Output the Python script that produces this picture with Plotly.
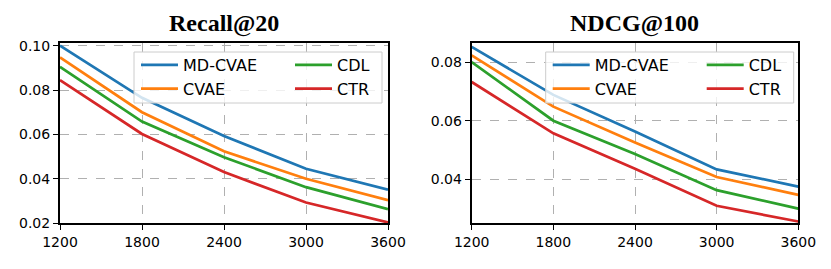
import plotly.graph_objects as go

x_vals = [1200, 1800, 2400, 3000, 3600]
methods = ["MD-CVAE", "CVAE", "CDL", "CTR"]
colors = ["#1f77b4", "#ff7f0e", "#2ca02c", "#d62728"]

recall_mdcvae = [0.1000, 0.0765, 0.0593, 0.0445, 0.0351]
recall_cvae = [0.0947, 0.0700, 0.0524, 0.0400, 0.0303]
recall_cdl = [0.0905, 0.0658, 0.0497, 0.0362, 0.0263]
recall_ctr = [0.0845, 0.0602, 0.0430, 0.0293, 0.0203]

ndcg_mdcvae = [0.0852, 0.0688, 0.0563, 0.0434, 0.0375]
ndcg_cvae = [0.0823, 0.0648, 0.0526, 0.0408, 0.0347]
ndcg_cdl = [0.0800, 0.0600, 0.0486, 0.0363, 0.0300]
ndcg_ctr = [0.0732, 0.0557, 0.0436, 0.0310, 0.0256]

titles = ["Recall@20", "NDCG@100"]
recall_ticks = [0.02, 0.04, 0.06, 0.08, 0.10]
ndcg_ticks = [0.04, 0.06, 0.08]

# page body has an 8px margin: size the figure so it fills the rest of the window
OFF = 8
W, H = 831 - OFF, 269 - OFF
fig = go.Figure()

panels = [
    dict(series=[recall_mdcvae, recall_cvae, recall_cdl, recall_ctr], xaxis="x", yaxis="y",
         legends=["legend", "legend2"]),
    dict(series=[ndcg_mdcvae, ndcg_cvae, ndcg_cdl, ndcg_ctr], xaxis="x2", yaxis="y2",
         legends=["legend3", "legend4"]),
]

for p in panels:
    for i, (name, s) in enumerate(zip(methods, p["series"])):
        fig.add_trace(go.Scatter(
            x=x_vals, y=s, mode="lines", name=name,
            line=dict(color=colors[i], width=2.7),
            xaxis=p["xaxis"], yaxis=p["yaxis"],
            legend=p["legends"][0] if i < 2 else p["legends"][1],
        ))

def px_x(v):
    return (v - OFF) / W

def px_y(v):
    return 1 - (v - OFF) / H

dom1 = [px_x(60), px_x(388)]
dom2 = [px_x(471.7), px_x(798.3)]
ydom = [px_y(223.3), px_y(43.3)]

axis_common = dict(
    showline=True, linecolor="black", linewidth=2, mirror=True,
    ticks="outside", ticklen=5, tickwidth=1.2, tickcolor="black",
    showgrid=True, gridcolor="#b0b0b0", gridwidth=1, griddash="dash",
    zeroline=False, automargin=False,
    tickfont=dict(family="DejaVu Sans", size=14, color="black"),
)

fig.update_layout(
    width=W, height=H,
    margin=dict(l=0, r=0, t=0, b=0, autoexpand=False),
    paper_bgcolor="white", plot_bgcolor="white",
    xaxis=dict(domain=dom1, range=[1200, 3600], tickvals=x_vals, anchor="y", **axis_common),
    yaxis=dict(domain=ydom, range=[0.0199, 0.1011], tickvals=recall_ticks, tickformat=".2f",
               anchor="x", **axis_common),
    xaxis2=dict(domain=dom2, range=[1200, 3600], tickvals=x_vals, anchor="y2", **axis_common),
    yaxis2=dict(domain=ydom, range=[0.025, 0.0864], tickvals=ndcg_ticks, tickformat=".2f",
                anchor="x2", **axis_common),
    showlegend=True,
)

leg_font = dict(family="DejaVu Sans", size=16, color="black")
leg_common = dict(orientation="v", xanchor="left", yanchor="top", bgcolor="rgba(0,0,0,0)",
                  borderwidth=0, font=leg_font, tracegroupgap=0, itemwidth=37)
legend_top = px_y(48)
fig.update_layout(
    legend=dict(x=px_x(136), y=legend_top, **leg_common),
    legend2=dict(x=px_x(290), y=legend_top, **leg_common),
    legend3=dict(x=px_x(136 + 411.7), y=legend_top, **leg_common),
    legend4=dict(x=px_x(290 + 411.7), y=legend_top, **leg_common),
)

# legend frames (slightly rounded)
def rounded_rect(x0, y0, x1, y1, r):
    return (f"M{x0 + r},{y0} L{x1 - r},{y0} Q{x1},{y0} {x1},{y0 - r} "
            f"L{x1},{y1 + r} Q{x1},{y1} {x1 - r},{y1} L{x0 + r},{y1} Q{x0},{y1} {x0},{y1 + r} "
            f"L{x0},{y0 - r} Q{x0},{y0} {x0 + r},{y0} Z")

for off in [0, 411.7]:
    x0, x1 = px_x(134 + off), px_x(382 + off)
    y0, y1 = px_y(52), px_y(103)
    rx = 3 / W
    fig.add_shape(type="rect", xref="paper", yref="paper",
                  x0=x0, x1=x1, y0=y1, y1=y0,
                  fillcolor="rgba(255,255,255,0.8)", line=dict(color="#cccccc", width=1),
                  layer="above")

for t, dom in zip(titles, [dom1, dom2]):
    fig.add_annotation(text="<b>" + t + "</b>", xref="paper", yref="paper",
                       x=(dom[0] + dom[1]) / 2, y=px_y(23), xanchor="center", yanchor="middle",
                       showarrow=False, font=dict(family="Liberation Serif", size=24, color="black"))

fig.write_html("out.html")
